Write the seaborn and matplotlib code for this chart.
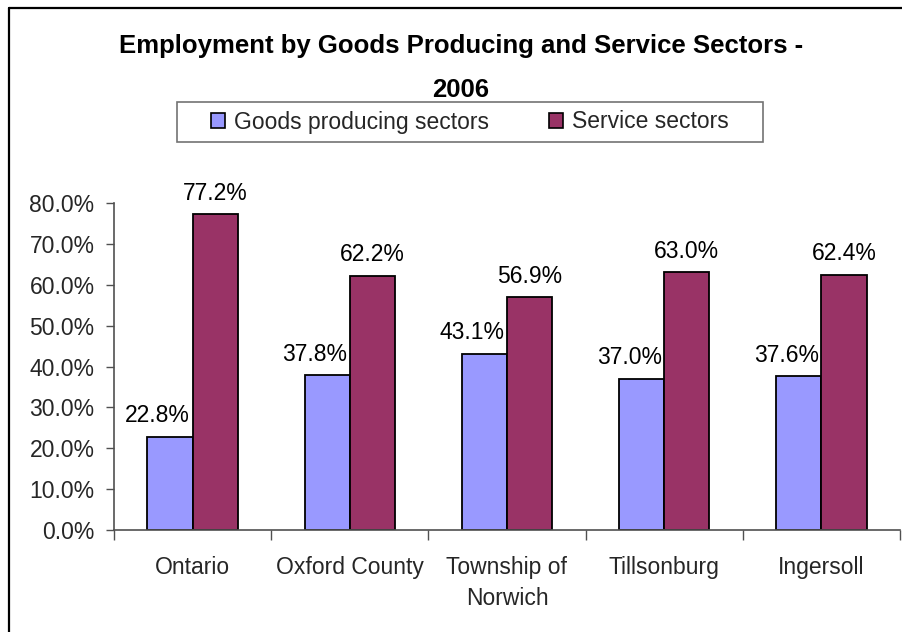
import matplotlib
matplotlib.use("Agg")
import matplotlib.pyplot as plt
import matplotlib.ticker as mticker
from matplotlib.lines import Line2D
from matplotlib.path import Path
import numpy as np
import pandas as pd
import seaborn as sns

# Employment shares (%) by sector, 2006
places = ["Ontario", "Oxford County", "Township of\nNorwich", "Tillsonburg", "Ingersoll"]
goods_producing = [22.8, 37.8, 43.1, 37.0, 37.6]
service = [77.2, 62.2, 56.9, 63.0, 62.4]
series_names = ["Goods producing sectors", "Service sectors"]
y_ticks = [0, 10, 20, 30, 40, 50, 60, 70, 80]

colors = ["#9999FF", "#993366"]
FONT = "Liberation Sans"
FS = 16.5

df = pd.DataFrame({
    "place": places * 2,
    "sector": [series_names[0]] * len(places) + [series_names[1]] * len(places),
    "share": goods_producing + service,
})

sns.set_theme(style="white")
plt.rcParams["font.family"] = [FONT, "DejaVu Sans"]

W, H = 903, 632
fig = plt.figure(figsize=(W / 100, H / 100), dpi=100)
ax = fig.add_axes([114 / W, 1 - 530 / H, (900 - 114) / W, (530 - 203) / H])

sns.barplot(data=df, x="place", y="share", hue="sector", order=places,
            hue_order=series_names, palette=colors, width=0.574,
            edgecolor="black", linewidth=1.3, saturation=1, ax=ax, legend=True)

ax.set_ylim(0, 80)
ax.set_xlim(-0.5, len(places) - 0.5)
ax.set_yticks(y_ticks)
ax.yaxis.set_major_formatter(mticker.FuncFormatter(lambda v, p: f"{v:.1f}%"))
ax.set_xlabel("")
ax.set_ylabel("")

for spine in ["top", "right"]:
    ax.spines[spine].set_visible(False)
for spine in ["left", "bottom"]:
    ax.spines[spine].set_color("#505050")
    ax.spines[spine].set_linewidth(1.2)

ax.tick_params(axis="y", which="major", direction="out", length=6, width=1,
               color="#505050", pad=8, labelsize=FS, left=True)
ax.tick_params(axis="x", which="major", length=0, pad=19, labelsize=FS)
ax.set_xticks(np.arange(-0.5, len(places)), minor=True)
ax.tick_params(axis="x", which="minor", direction="out", length=7, width=1,
               color="#505050", bottom=True)
for lbl in ax.get_xticklabels():
    lbl.set_linespacing(1.42)
    lbl.set_verticalalignment("top")

# Value labels: the goods-sector labels sit a little to the left of their bars
x_shift = [-9, 0]
for cont, dx in zip(ax.containers, x_shift):
    for bar, v in zip(cont.patches, cont.datavalues):
        ax.annotate(f"{v:.1f}%", (bar.get_x() + bar.get_width() / 2, bar.get_height()),
                    xytext=(dx, 7), textcoords="offset points",
                    ha="center", va="bottom", fontsize=FS, color="black")

# Title
fig.text(461 / W, 1 - 34 / H,
         "Employment by Goods Producing and Service Sectors -\n2006",
         ha="center", va="top", fontsize=18.5, fontweight="bold",
         linespacing=2.05, color="black")


# Legend box, wider on the sides than on top and bottom
def wide_box(x0, y0, width, height, mutation_size):
    px = 1.15 * mutation_size
    verts = [(x0 - px, y0), (x0 + width + px, y0), (x0 + width + px, y0 + height),
             (x0 - px, y0 + height), (x0 - px, y0)]
    codes = [Path.MOVETO, Path.LINETO, Path.LINETO, Path.LINETO, Path.CLOSEPOLY]
    return Path(verts, codes)


ax.get_legend().remove()
handles, labels = ax.get_legend_handles_labels()
leg = fig.legend(handles, labels, loc="center",
                 bbox_to_anchor=(470 / W, 1 - 122 / H), bbox_transform=fig.transFigure,
                 ncol=2, fontsize=FS, frameon=True, fancybox=False,
                 handlelength=0.62, handleheight=0.62, handletextpad=0.4,
                 columnspacing=2.6, borderpad=0.35, borderaxespad=0)
frame = leg.get_frame()
frame.set_edgecolor("#505050")
frame.set_linewidth(1.2)
frame.set_boxstyle(wide_box)
for h in leg.legend_handles:
    h.set_edgecolor("black")
    h.set_linewidth(1.2)

# Chart area border (left and top edges)
fig.add_artist(Line2D([8.5 / W, 8.5 / W], [0, 1 - 7.5 / H], transform=fig.transFigure,
                      color="black", linewidth=1.6))
fig.add_artist(Line2D([8.5 / W, 1], [1 - 7.5 / H, 1 - 7.5 / H], transform=fig.transFigure,
                      color="black", linewidth=1.6))

fig.savefig("out.png", dpi=100, facecolor="white")
